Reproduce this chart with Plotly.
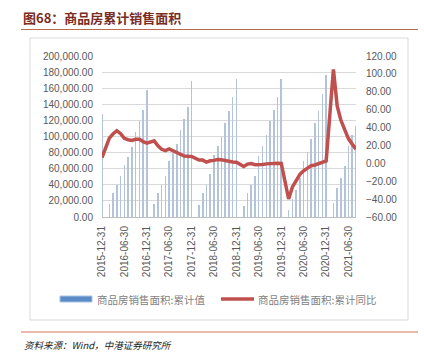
import pandas as pd
import plotly.graph_objects as go

# ---- data ----
# month-end dates, Dec-2015 .. Aug-2021 (January not published, Jan-Feb combined)
all_months = pd.date_range("2015-12-31", "2021-08-31", freq="ME")
dates = [d for d in all_months if d.month != 1]

area_cum = [
    128495,
    15638, 30049, 39855, 51481, 64302, 74471, 86471, 105185, 118845, 132683, 157349,
    15963, 29863, 40013, 51440, 69122, 79004, 90961, 107555, 121477, 136479, 169408,
    14577, 30237, 40287, 52911, 77143, 87766, 99887, 117077, 131148, 148604, 171654,
    14102, 29829, 39937, 50773, 75786, 88213, 101849, 119177, 133251, 148905, 171558,
    8475, 21978, 33973, 48162, 69404, 81115, 97016, 117073, 131144, 152305, 176086,
    17363, 36007, 48952, 63559, 88635, 101775, 112568,
]
yoy_cum = [
    6.5,
    28.2, 33.1, 36.5, 33.2, 27.9, 26.4, 25.5, 26.9, 26.8, 24.3, 22.5,
    25.1, 19.5, 15.7, 14.3, 16.1, 14.0, 12.7, 10.3, 8.2, 7.9, 7.7,
    3.6, 3.6, 1.3, 2.9, 3.3, 4.2, 4.0, 2.9, 2.2, 1.4, 1.3,
    -3.6, -0.9, -0.3, -1.6, -1.8, -1.3, -0.6, -0.1, 0.1, 0.2, -0.1,
    -39.9, -26.3, -19.3, -12.3, -8.4, -5.8, -2.6, -1.8, 0.0, 1.3, 2.6,
    104.9, 63.8, 48.1, 36.3, 27.7, 21.5, 15.9,
]
tick_dates = [d for d in dates if d.month in (6, 12)]

name_bar = "商品房销售面积:累计值"
name_line = "商品房销售面积:累计同比"
title_text = "图68：商品房累计销售面积"
source_text = "资料来源：Wind，中港证券研究所"

# ---- layout geometry (pixels) ----
W, H = 424, 354
L, R, T, B = 102, 356, 56, 217
pw, ph = R - L, B - T


def px(x):
    return (x - L) / pw


def py(y):
    return (B - y) / ph


fig = go.Figure()
fig.add_trace(go.Bar(
    x=dates, y=area_cum, name=name_bar,
    marker=dict(color="#b3c3da", line=dict(width=0)),
    width=5 * 86400000, showlegend=False, yaxis="y",
))
fig.add_trace(go.Scatter(
    x=dates, y=yoy_cum, name=name_line, mode="lines",
    line=dict(color="#c0504d", width=3.5), showlegend=False, yaxis="y2",
))

tick_font = dict(family="Liberation Sans, Arial", size=10, color="#595959")
fig.update_layout(
    width=W, height=H,
    margin=dict(l=L, r=W - R, t=T, b=H - B),
    paper_bgcolor="white", plot_bgcolor="white",
    bargap=0,
    xaxis=dict(
        type="date",
        range=[pd.Timestamp("2015-12-31"), pd.Timestamp("2021-08-31")],
        tickvals=tick_dates, tickformat="%Y-%m-%d", tickangle=-90,
        tickfont=tick_font, showgrid=False, showline=True,
        linecolor="#bfbfbf", linewidth=1, ticks="", ticklabelstandoff=4,
        zeroline=False,
    ),
    yaxis=dict(
        range=[0, 200000], dtick=20000, tickformat=",.2f",
        tickfont=tick_font, showgrid=True, gridcolor="#d9d9d9",
        gridwidth=1, zeroline=False, showline=False, ticks="",
        ticklabelstandoff=8,
    ),
    yaxis2=dict(
        range=[-60, 120], dtick=20, tickformat=".2f", overlaying="y",
        side="right", tickfont=tick_font, showgrid=False, zeroline=False,
        showline=False, ticks="", ticklabelstandoff=9,
    ),
)

shapes = [
    # chart border box
    dict(type="rect", xref="paper", yref="paper", x0=px(30), x1=px(408),
         y0=py(320), y1=py(38), line=dict(color="#d9d9d9", width=1),
         layer="below"),
    # title underline
    dict(type="line", xref="paper", yref="paper", x0=px(21), x1=px(418),
         y0=py(29.5), y1=py(29.5), line=dict(color="#b86a4c", width=1.2)),
    # bottom rule
    dict(type="line", xref="paper", yref="paper", x0=px(21), x1=px(418),
         y0=py(332), y1=py(332), line=dict(color="#e2a393", width=1.5)),
    # legend swatches
    dict(type="rect", xref="paper", yref="paper", x0=px(60), x1=px(92),
         y0=py(302), y1=py(296), fillcolor="#5b8bc7",
         line=dict(color="#a9c2e3", width=1)),
    dict(type="line", xref="paper", yref="paper", x0=px(221), x1=px(254),
         y0=py(299), y1=py(299), line=dict(color="#c0504d", width=3.5)),
]
fig.update_layout(shapes=shapes)

leg_font = dict(family="Noto Sans CJK SC", size=10.5, color="#7f7f7f")
annotations = [
    dict(text=title_text, xref="paper", yref="paper", x=px(21), y=py(17),
         xanchor="left", yanchor="middle", showarrow=False,
         font=dict(family="Noto Sans CJK SC", size=13, color="#7b2c21",
                   weight="bold")),
    dict(text=name_bar, xref="paper", yref="paper", x=px(95), y=py(299),
         xanchor="left", yanchor="middle", showarrow=False, font=leg_font),
    dict(text=name_line, xref="paper", yref="paper", x=px(256), y=py(299),
         xanchor="left", yanchor="middle", showarrow=False, font=leg_font),
    dict(text=source_text, xref="paper", yref="paper", x=px(22), y=py(345),
         xanchor="left", yanchor="middle", showarrow=False,
         font=dict(family="Noto Sans CJK SC", size=9.5, color="#222222",
                   style="italic")),
]
fig.update_layout(annotations=annotations)

fig.write_html("out.html")
